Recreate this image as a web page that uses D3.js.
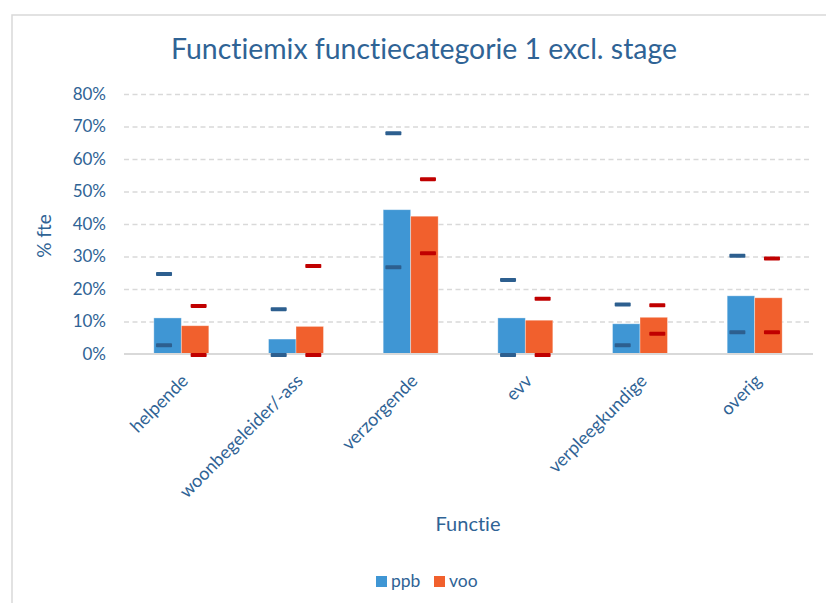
<!DOCTYPE html>
<html>
<head>
<meta charset="utf-8">
<script src="https://cdn.jsdelivr.net/npm/d3@7"></script>
<style>
  body { margin: 0; background: #fff; }
  text { font-family: Lato, "Open Sans", sans-serif; fill: #2F6395; font-variant-ligatures: none; }
</style>
</head>
<body>
<script>
// categories and series (percent of fte)
let categories = ["helpende", "woonbegeleider/-ass", "verzorgende", "evv", "verpleegkundige", "overig"];
let seriesNames = ["ppb", "voo"];
let ppb = [11.1, 4.6, 44.4, 11.1, 9.3, 17.9];
let voo = [8.7, 8.5, 42.4, 10.4, 11.3, 17.3];
// range markers (upper / lower)
let ppbHigh = [24.6, 13.8, 67.9, 22.8, 15.2, 30.2];
let ppbLow = [2.7, 0, 26.7, 0, 2.7, 6.7];
let vooHigh = [14.8, 27.1, 53.8, 17.0, 15.0, 29.4];
let vooLow = [0, 0, 31.0, 0, 6.2, 6.7];
let yTicks = [0, 10, 20, 30, 40, 50, 60, 70, 80];

window.onload = function() {
    let w = 826,
        h = 603;

    let svg = d3.select("body")
        .append("svg")
        .attr("width", w)
        .attr("height", h);

    // chart frame
    svg.append("rect")
        .attr("x", 12)
        .attr("y", 15)
        .attr("width", 840)
        .attr("height", 620)
        .style("fill", "#fff")
        .style("stroke", "#D9D9D9")
        .style("stroke-width", 1.5);

    let left = 124, right = 812, top = 94, bottom = 354;

    let x0 = d3.scaleBand()
        .domain(categories)
        .range([left, right]);

    let bw = x0.bandwidth();

    // bars: two columns of ~27.5px in the middle of each band
    let x1 = d3.scaleBand()
        .domain(seriesNames)
        .range([bw / 2 - 27.5, bw / 2 + 27.5]);

    // markers sit a bit further apart than the bars
    let xm = d3.scaleBand()
        .domain(seriesNames)
        .range([bw / 2 - 34.6, bw / 2 + 34.6]);

    let y = d3.scaleLinear()
        .domain([0, 80])
        .range([bottom, top]);

    let color = d3.scaleOrdinal()
        .domain(seriesNames)
        .range(["#3F96D4", "#F1602D"]);

    let markColor = d3.scaleOrdinal()
        .domain(seriesNames)
        .range(["#2D5F8F", "#C00000"]);

    // gridlines
    let grid = svg.append("g")
        .attr("transform", "translate(" + left + ",0)")
        .call(d3.axisLeft(y).tickValues(yTicks.slice(1)).tickSize(-(right - left - 2)).tickFormat(""));
    grid.select(".domain").remove();
    grid.selectAll("line")
        .style("stroke", "#D9D9D9")
        .style("stroke-width", 1.3)
        .style("stroke-dasharray", "5,3.5");

    // y tick labels
    let yAxis = svg.append("g")
        .attr("transform", "translate(106,0)")
        .call(d3.axisLeft(y).tickValues(yTicks).tickSize(0).tickFormat(function(d) {
            return d + "%";
        }));
    yAxis.select(".domain").remove();
    yAxis.selectAll("text")
        .attr("x", 0)
        .style("font-size", "17px")
        .style("font-family", "Lato, sans-serif")
        .style("fill", "#2F6395");

    let rows = categories.map(function(c, i) {
        return {
            cat: c,
            vals: [
                { s: "ppb", v: ppb[i], hi: ppbHigh[i], lo: ppbLow[i] },
                { s: "voo", v: voo[i], hi: vooHigh[i], lo: vooLow[i] }
            ]
        };
    });

    let groups = svg.selectAll(".cat")
        .data(rows)
        .enter()
        .append("g")
        .attr("class", "cat")
        .attr("transform", function(d) {
            return "translate(" + x0(d.cat) + ",0)";
        });

    groups.selectAll(".bar")
        .data(function(d) { return d.vals; })
        .enter()
        .append("rect")
        .attr("class", "bar")
        .attr("x", function(d) { return x1(d.s); })
        .attr("width", x1.bandwidth())
        .attr("y", function(d) { return y(d.v); })
        .attr("height", function(d) { return y(0) - y(d.v); })
        .style("fill", function(d) { return color(d.s); })
        .style("stroke", "rgba(255,255,255,0.45)")
        .style("stroke-width", 0.8);

    // baseline
    svg.append("line")
        .attr("x1", left)
        .attr("x2", right + 1)
        .attr("y1", y(0))
        .attr("y2", y(0))
        .style("stroke", "#D9D9D9")
        .style("stroke-width", 2);

    // high / low dash markers, on top of the baseline
    let markGroups = svg.selectAll(".marks")
        .data(rows)
        .enter()
        .append("g")
        .attr("class", "marks")
        .attr("transform", function(d) {
            return "translate(" + x0(d.cat) + ",0)";
        });

    ["hi", "lo"].forEach(function(k) {
        markGroups.selectAll(".mark-" + k)
            .data(function(d) { return d.vals; })
            .enter()
            .append("rect")
            .attr("class", "mark-" + k)
            .attr("x", function(d) { return xm(d.s) + xm.bandwidth() / 2 - 8; })
            .attr("width", 16)
            .attr("y", function(d) { return y(d[k]) - 2 + (d[k] === 0 ? 1 : 0); })
            .attr("height", 4)
            .attr("rx", 0.8)
            .style("fill", function(d) { return markColor(d.s); });
    });

    // x tick labels
    let xAxis = svg.append("g")
        .attr("transform", "translate(0," + bottom + ")")
        .call(d3.axisBottom(x0).tickSize(0));
    xAxis.select(".domain").remove();
    xAxis.selectAll("text")
        .attr("text-anchor", "end")
        .attr("x", 0)
        .attr("y", 0)
        .attr("dy", 0)
        .attr("transform", "translate(8,28) rotate(-45)")
        .style("font-size", "18px")
        .style("font-family", "Lato, sans-serif")
        .style("fill", "#2F6395");

    // title
    svg.append("text")
        .attr("x", 424)
        .attr("y", 59)
        .attr("text-anchor", "middle")
        .style("font-size", "28.4px")
        .text("Functiemix functiecategorie 1 excl. stage");

    // axis titles
    svg.append("text")
        .attr("transform", "translate(51,236) rotate(-90)")
        .attr("text-anchor", "middle")
        .style("font-size", "19px")
        .text("% fte");

    svg.append("text")
        .attr("x", (left + right) / 2)
        .attr("y", 531)
        .attr("text-anchor", "middle")
        .style("font-size", "20px")
        .text("Functie");

    // legend
    let legend = svg.selectAll(".legend")
        .data(seriesNames)
        .enter()
        .append("g")
        .attr("class", "legend")
        .attr("transform", function(d, i) {
            return "translate(" + (376 + i * 58) + ",576)";
        });

    legend.append("rect")
        .attr("width", 11)
        .attr("height", 11)
        .style("fill", function(d) { return color(d); });

    legend.append("text")
        .attr("x", 15)
        .attr("y", 11)
        .style("font-size", "17.5px")
        .text(function(d) { return d; });
};
</script>
</body>
</html>
